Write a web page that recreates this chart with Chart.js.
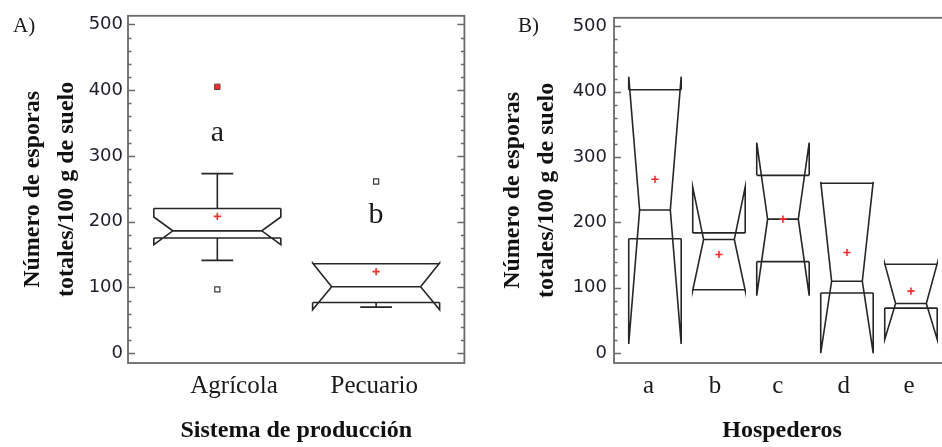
<!DOCTYPE html>
<html>
<head>
<meta charset="utf-8">
<title>Número de esporas totales</title>
<script src="https://cdn.jsdelivr.net/npm/chart.js@4.4.1/dist/chart.umd.min.js"></script>
<style>
  html, body { margin: 0; padding: 0; background: #fff; }
  body { width: 942px; height: 447px; overflow: hidden; position: relative; }
  canvas { position: absolute; top: 0; }
  #panelA { left: 0; }
  #panelB { left: 470px; }
</style>
</head>
<body>
<canvas id="panelA" width="470" height="447"></canvas>
<canvas id="panelB" width="490" height="447"></canvas>
<script>
// ---- Panel A: production system ----
const categoriesA = ['Agrícola', 'Pecuario'];
const q1A       = [175, 77];
const medianA   = [186, 101];
const q3A       = [220, 136];
const notchLoA  = [165, 66];
const notchHiA  = [207, 137];
const whiskLoA  = [141, 70];
const whiskHiA  = [273, 136];
const meanA     = [208, 124];
const outlierCatA = [1, 2];
const outlierValA = [97, 261];
const farOutlierCatA = [1];
const farOutlierValA = [405];
const lettersA  = ['a', 'b'];
const letterBaseA = [322, 198];

// ---- Panel B: hosts ----
const categoriesB = ['a', 'b', 'c', 'd', 'e'];
const q1B       = [175, 97, 140, 92, 69];
const medianB   = [219, 174, 205, 110, 76];
const q3B       = [403, 184, 272, 260, 136];
const notchLoB  = [14, 96, 88, 0, 21];
const notchHiB  = [423, 254, 322, 262, 137];
const whiskLoB  = [175, 97, 140, 92, 69];
const whiskHiB  = [403, 184, 272, 260, 136];
const meanB     = [266, 151, 205, 154, 95];

const yTickValues = [0, 100, 200, 300, 400, 500];

const SERIF = "'Liberation Serif', 'Times New Roman', serif";
const SANS = "'DejaVu Sans', sans-serif";
const LINE = '#262626';
const FRAME = '#6a6a6a';
const RED = '#ff2a2a';

// Notched box outlines, whiskers, frame, inward ticks and panel text
function boxPlotPlugin(spec) {
  return {
    id: 'notchedBoxes' + spec.tag,
    beforeDatasetsDraw(chart) {
      const { ctx, scales: { x, y } } = chart;
      const py = v => y.getPixelForValue(v);
      ctx.save();
      ctx.strokeStyle = LINE;
      ctx.lineWidth = 1.6;
      ctx.lineJoin = 'miter';
      spec.cats.forEach((c, i) => {
        const xc = i + 1;
        const L = x.getPixelForValue(xc - spec.half);
        const R = x.getPixelForValue(xc + spec.half);
        const Li = x.getPixelForValue(xc - spec.indent);
        const Ri = x.getPixelForValue(xc + spec.indent);
        const Xc = x.getPixelForValue(xc);
        const q1 = spec.q1[i], q3 = spec.q3[i], med = spec.med[i];
        const nLo = spec.nLo[i], nHi = spec.nHi[i];
        ctx.beginPath();
        ctx.moveTo(L, py(q3)); ctx.lineTo(R, py(q3));
        ctx.moveTo(L, py(q1)); ctx.lineTo(R, py(q1));
        ctx.moveTo(Li, py(med)); ctx.lineTo(Ri, py(med));
        [[L, Li], [R, Ri]].forEach(([s, si]) => {
          ctx.moveTo(s, py(q3));
          ctx.lineTo(s, py(nHi));
          ctx.lineTo(si, py(med));
          ctx.lineTo(s, py(nLo));
          ctx.lineTo(s, py(q1));
        });
        const cL = x.getPixelForValue(xc - spec.cap);
        const cR = x.getPixelForValue(xc + spec.cap);
        if (spec.wHi[i] > q3) {
          ctx.moveTo(Xc, py(q3)); ctx.lineTo(Xc, py(spec.wHi[i]));
          ctx.moveTo(cL, py(spec.wHi[i])); ctx.lineTo(cR, py(spec.wHi[i]));
        }
        if (spec.wLo[i] < q1) {
          ctx.moveTo(Xc, py(q1)); ctx.lineTo(Xc, py(spec.wLo[i]));
          ctx.moveTo(cL, py(spec.wLo[i])); ctx.lineTo(cR, py(spec.wLo[i]));
        }
        ctx.stroke();
      });
      ctx.restore();
    },
    afterDraw(chart) {
      const { ctx, chartArea: a, scales: { x, y } } = chart;
      ctx.save();
      // frame
      ctx.strokeStyle = FRAME;
      ctx.lineWidth = 1.8;
      ctx.strokeRect(a.left, a.top, a.right - a.left, a.bottom - a.top);
      // inward major / minor ticks on both vertical edges
      ctx.lineWidth = 1.5;
      ctx.beginPath();
      for (let v = 0; v <= 500; v += 20) {
        const len = v % 100 === 0 ? 7 : 3.5;
        const p = Math.round(y.getPixelForValue(v)) + 0.5;
        ctx.moveTo(a.left, p); ctx.lineTo(a.left + len, p);
        ctx.moveTo(a.right, p); ctx.lineTo(a.right - len, p);
      }
      ctx.stroke();
      // panel tag
      ctx.fillStyle = '#1a1a1a';
      ctx.font = '21px ' + SERIF;
      ctx.textBaseline = 'alphabetic';
      ctx.textAlign = 'left';
      ctx.fillText(spec.panelTag, spec.tagX, 32);
      // group letters
      if (spec.letters) {
        ctx.font = '30px ' + SERIF;
        ctx.textAlign = 'center';
        spec.letters.forEach((t, i) => {
          ctx.fillText(t, x.getPixelForValue(i + 1), y.getPixelForValue(spec.letterBase[i]));
        });
      }
      ctx.restore();
    }
  };
}

function makePanel(canvasId, cfg) {
  const meanPts = cfg.mean.map((v, i) => ({ x: i + 1, y: v }));
  const datasets = [
    {
      label: 'Media',
      data: meanPts,
      pointStyle: 'cross',
      pointRadius: 3.6,
      borderColor: RED,
      backgroundColor: RED,
      borderWidth: 1.6,
      showLine: false
    }
  ];
  if (cfg.outCat) {
    datasets.push({
      label: 'Atípicos',
      data: cfg.outCat.map((c, i) => ({ x: c, y: cfg.outVal[i] })),
      pointStyle: 'rect',
      pointRadius: 3.6,
      borderColor: '#3a3a3a',
      backgroundColor: '#ffffff',
      borderWidth: 1.2,
      showLine: false
    });
  }
  if (cfg.farCat) {
    datasets.push({
      label: 'Atípicos extremos',
      data: cfg.farCat.map((c, i) => ({ x: c, y: cfg.farVal[i] })),
      pointStyle: 'rect',
      pointRadius: 3.8,
      borderColor: '#6a3a3a',
      backgroundColor: RED,
      borderWidth: 1,
      showLine: false
    });
  }
  return new Chart(document.getElementById(canvasId), {
    type: 'scatter',
    data: { datasets },
    options: {
      responsive: false,
      devicePixelRatio: 1,
      animation: false,
      events: [],
      layout: { padding: { top: 13, right: cfg.padRight, bottom: 0, left: 0 } },
      plugins: { legend: { display: false }, tooltip: { enabled: false }, title: { display: false } },
      scales: {
        x: {
          type: 'linear',
          min: cfg.xMin,
          max: cfg.xMax,
          grid: { display: false, drawTicks: false },
          border: { display: false },
          afterBuildTicks(scale) {
            scale.ticks = cfg.cats.map((c, i) => ({ value: i + 1 + cfg.labelNudge[i] }));
          },
          afterFit(scale) { scale.height = 84; },
          ticks: {
            padding: 8,
            maxRotation: 0,
            autoSkip: false,
            color: '#1a1a1a',
            font: { family: SERIF, size: 25 },
            callback: (v, i) => cfg.cats[i]
          },
          title: {
            display: true,
            text: cfg.xTitle,
            color: '#111',
            font: { family: SERIF, size: 24, weight: 'bold', lineHeight: 1.2 },
            padding: { top: 0, bottom: 2 }
          }
        },
        y: {
          type: 'linear',
          min: -15,
          max: 513,
          grid: { display: false, drawTicks: false },
          border: { display: false },
          afterBuildTicks(scale) {
            scale.ticks = yTickValues.map(v => ({ value: v }));
          },
          afterFit(scale) { scale.width = cfg.yWidth; },
          ticks: {
            padding: cfg.yTickPad,
            color: '#1e1e2a',
            font: { family: SANS, size: 18 }
          },
          title: {
            display: true,
            text: ['Número de esporas', 'totales/100 g de suelo'],
            color: '#111',
            font: { family: SERIF, size: 24, weight: 'bold', lineHeight: '34px' },
            padding: { top: cfg.yTitlePad, bottom: 0 }
          }
        }
      }
    },
    plugins: [boxPlotPlugin(cfg)]
  });
}

makePanel('panelA', {
  tag: 'A', panelTag: 'A)', tagX: 13,
  cats: categoriesA, q1: q1A, med: medianA, q3: q3A, nLo: notchLoA, nHi: notchHiA,
  wLo: whiskLoA, wHi: whiskHiA, mean: meanA,
  outCat: outlierCatA, outVal: outlierValA, farCat: farOutlierCatA, farVal: farOutlierValA,
  letters: lettersA, letterBase: letterBaseA,
  half: 0.40, indent: 0.28, cap: 0.10,
  xMin: 0.4375, xMax: 2.556, padRight: 3,
  labelNudge: [0.105, -0.012],
  xTitle: 'Sistema de producción',
  yWidth: 128, yTickPad: 5, yTitlePad: 16
});

makePanel('panelB', {
  tag: 'B', panelTag: 'B)', tagX: 48,
  cats: categoriesB, q1: q1B, med: medianB, q3: q3B, nLo: notchLoB, nHi: notchHiB,
  wLo: whiskLoB, wHi: whiskHiB, mean: meanB,
  half: 0.41, indent: 0.24, cap: 0.10,
  xMin: 0.36, xMax: 5.61, padRight: 10,
  labelNudge: [-0.1, -0.06, -0.08, -0.05, -0.03],
  xTitle: 'Hospederos',
  yWidth: 144, yTickPad: 7, yTitlePad: 26
});
</script>
</body>
</html>
